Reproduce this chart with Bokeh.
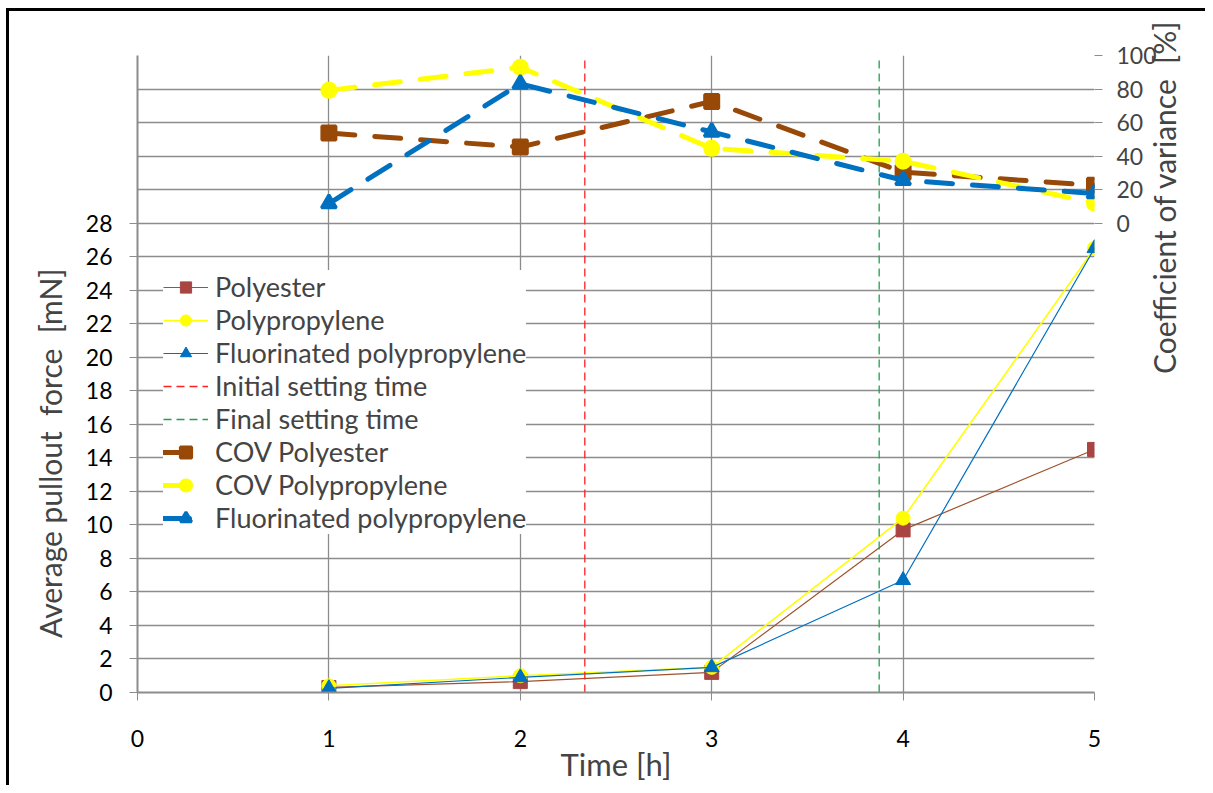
import math
from bokeh.plotting import figure
from bokeh.models import (Range1d, LinearAxis, FixedTicker, Legend, LegendItem, Title)
from bokeh.embed import file_html
from bokeh.resources import INLINE

# ---- data ----
hours = [1, 2, 3, 4, 5]
polyester = [0.3, 0.65, 1.2, 9.7, 14.5]
polypropylene = [0.4, 1.0, 1.5, 10.4, 26.5]
fluorinated = [0.25, 0.9, 1.5, 6.7, 26.5]
cov_polyester = [53.7, 45.4, 72.6, 30.4, 22.6]
cov_polypropylene = [79.2, 93.0, 44.6, 36.9, 11.9]
cov_fluorinated = [11.7, 83.1, 54.4, 25.6, 17.7]
initial_setting_time = 2.337
final_setting_time = 3.875
x_ticks = [0, 1, 2, 3, 4, 5]
force_ticks = list(range(0, 29, 2))
grid_ticks = list(range(0, 39, 2))
cov_ticks = [0, 20, 40, 60, 80, 100]

FONT = "Lato"
GRID = "#8c8c8c"

p = figure(width=1205, height=785, output_backend="svg", toolbar_location=None,
           x_range=Range1d(0, 5), y_range=Range1d(0, 38),
           min_border_left=137, min_border_right=111, min_border_top=55, min_border_bottom=89)
p.outline_line_color = None
p.background_fill_color = "white"
p.border_fill_color = None
p.styles = {
    "background-color": "white",
    "background-image": "linear-gradient(black, black), linear-gradient(black, black)",
    "background-size": "1300px 3px, 3px 1000px",
    "background-position": "6px 8px, 6px 8px",
    "background-repeat": "no-repeat, no-repeat",
}
p.extra_y_ranges = {"cov": Range1d(-280, 100)}

# axes
p.xaxis.ticker = FixedTicker(ticks=x_ticks)
p.yaxis.ticker = FixedTicker(ticks=force_ticks)
for ax in (p.xaxis[0], p.yaxis[0]):
    ax.axis_line_color = GRID
    ax.axis_line_width = 2
    ax.major_tick_line_color = GRID
    ax.major_tick_in = 0
    ax.major_tick_out = 8
    ax.minor_tick_line_color = None
    ax.major_label_text_font = FONT
    ax.major_label_text_font_size = "23px"
    ax.major_label_text_color = "black"
p.yaxis.major_label_standoff = 17
p.xaxis.major_label_standoff = 29
p.xaxis.axis_label = "Time [h]"
p.xaxis.axis_label_text_font = FONT
p.xaxis.axis_label_text_font_size = "31px"
p.xaxis.axis_label_text_font_style = "normal"
p.xaxis.axis_label_standoff = -5

# right axis for the coefficient of variance
raxis = LinearAxis(y_range_name="cov", ticker=FixedTicker(ticks=cov_ticks))
raxis.axis_line_color = None
raxis.major_tick_line_color = GRID
raxis.major_tick_in = 0
raxis.major_tick_out = 8
raxis.minor_tick_line_color = None
raxis.major_label_text_font = FONT
raxis.major_label_text_font_size = "23px"
raxis.major_label_standoff = 14
raxis.axis_label = "Coefficient of variance \u00a0[%]"
raxis.axis_label_orientation = math.pi / 2
raxis.axis_label_text_font = FONT
raxis.axis_label_text_font_size = "30px"
raxis.axis_label_text_font_style = "normal"
raxis.axis_label_standoff = 4
p.add_layout(raxis, "right")

p.xgrid.ticker = FixedTicker(ticks=x_ticks)
p.ygrid.ticker = FixedTicker(ticks=grid_ticks)
p.xgrid.grid_line_color = GRID
p.ygrid.grid_line_color = GRID
p.xgrid.grid_line_width = 1.3
p.ygrid.grid_line_width = 1.3

# main series
r1l = p.line(hours, polyester, line_color="#A0522D", line_width=1.2)
r1m = p.scatter(hours, polyester, marker="square", size=14, fill_color="#A84542", line_color="#A84542")
r2l = p.line(hours, polypropylene, line_color="#FFFF00", line_width=1.6)
r2m = p.scatter(hours, polypropylene, marker="circle", size=14, fill_color="#FFFF00", line_color="#FFFF00")
r3l = p.line(hours, fluorinated, line_color="#0070C0", line_width=1.2)
r3m = p.scatter(hours, fluorinated, marker="triangle", size=15, fill_color="#0070C0", line_color="#0070C0")

# setting times
r4 = p.line([initial_setting_time, initial_setting_time], [0, 38], line_color="#FF2020",
            line_width=1.3, line_dash="8 5")
r5 = p.line([final_setting_time, final_setting_time], [0, 38], line_color="#20A050",
            line_width=1.3, line_dash="8 5")

# COV series
r6l = p.line(hours, cov_polyester, y_range_name="cov", line_color="#984807", line_width=5,
             line_dash="26 20", line_cap="round")
r6m = p.scatter(hours, cov_polyester, y_range_name="cov", marker="square", size=14,
                fill_color="#984807", line_color="#984807", line_width=3)
r7l = p.line(hours, cov_polypropylene, y_range_name="cov", line_color="#FFFF00", line_width=5,
             line_dash="26 20", line_cap="round")
r7m = p.scatter(hours, cov_polypropylene, y_range_name="cov", marker="circle", size=14,
                fill_color="#FFFF00", line_color="#FFFF00", line_width=3)
r8l = p.line(hours, cov_fluorinated, y_range_name="cov", line_color="#0070C0", line_width=5,
             line_dash="26 20", line_cap="round")
r8m = p.scatter(hours, cov_fluorinated, y_range_name="cov", marker="triangle", size=15,
                fill_color="#0070C0", line_color="#0070C0", line_width=3)

legend = Legend(items=[
    LegendItem(label="Polyester", renderers=[r1l, r1m]),
    LegendItem(label="Polypropylene", renderers=[r2l, r2m]),
    LegendItem(label="Fluorinated polypropylene", renderers=[r3l, r3m]),
    LegendItem(label="Initial setting time", renderers=[r4]),
    LegendItem(label="Final setting time", renderers=[r5]),
    LegendItem(label="COV Polyester", renderers=[r6l, r6m]),
    LegendItem(label="COV Polypropylene", renderers=[r7l, r7m]),
    LegendItem(label="Fluorinated polypropylene", renderers=[r8l, r8m]),
], location=(26, 158))
legend.label_text_font = FONT
legend.label_text_font_size = "27px"
legend.glyph_width = 45
legend.glyph_height = 28
legend.label_height = 28
legend.spacing = 0
legend.padding = 4
legend.margin = 0
legend.label_standoff = 7
legend.border_line_color = None
legend.background_fill_color = "white"
legend.background_fill_alpha = 1.0
p.add_layout(legend, "center")

# left title, beside the 0-28 mN scale
lt = Title(text="Average pullout \u00a0force \u00a0[mN]", align="right", offset=213, standoff=30,
           text_font=FONT, text_font_size="30px", text_font_style="normal")
p.add_layout(lt, "left")

open("out.html", "w").write(file_html(p, INLINE))
